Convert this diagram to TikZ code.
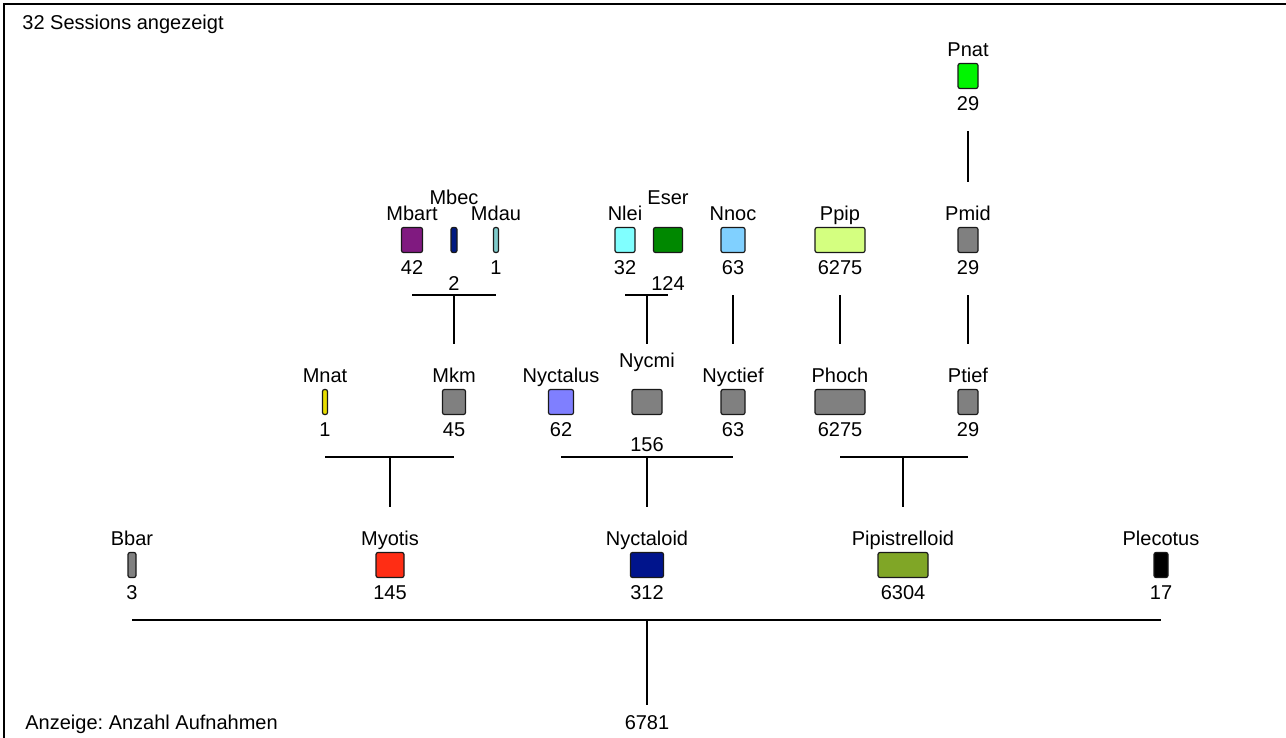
\documentclass[tikz,border=0pt]{standalone}
\usepackage{fontspec}
\setmainfont{Liberation Sans}
\frenchspacing

\definecolor{batgray}{RGB}{128,128,128}
\definecolor{batred}{RGB}{255,45,20}
\definecolor{batnavy}{RGB}{0,20,140}
\definecolor{batolive}{RGB}{128,166,38}
\definecolor{batyellow}{RGB}{232,222,0}
\definecolor{batperi}{RGB}{127,127,255}
\definecolor{batpurple}{RGB}{128,26,128}
\definecolor{batdeep}{RGB}{0,25,128}
\definecolor{batteal}{RGB}{128,204,204}
\definecolor{batcyan}{RGB}{128,255,255}
\definecolor{batgreen}{RGB}{0,136,0}
\definecolor{batsky}{RGB}{128,208,255}
\definecolor{batlime}{RGB}{212,255,128}
\definecolor{batbright}{RGB}{0,245,0}

\begin{document}
\begin{tikzpicture}[x=0.5pt,y=-0.5pt,
  txt/.style={font=\fontsize{10}{12}\selectfont,inner sep=0pt,text height=7.2pt,text depth=0pt},
  taxbox/.style={draw=black!90,line width=0.6pt,rounded corners=1pt,minimum height=12.5pt,inner sep=0pt},
  link/.style={line width=0.75pt}]

\useasboundingbox (0,0) rectangle (1286,738);

% frame
\draw[line width=1pt] (4,738) -- (4,4) -- (1286,4);

\node[txt,anchor=west] (header) at (22,22) {32 Sessions angezeigt};
\node[txt,anchor=west] (legend) at (25,722) {Anzeige: Anzahl Aufnahmen};

% taxa: name/x/y/width/colour/label/count/offset
\foreach \id/\x/\y/\w/\col/\lab/\num/\off in {
  bbar/132/565/8/batgray/Bbar/3/27,
  myotis/390/565/28/batred/Myotis/145/27,
  nyctaloid/647/565/33/batnavy/Nyctaloid/312/27,
  pipistrelloid/903/565/50/batolive/Pipistrelloid/6304/27,
  plecotus/1161/565/14/black/Plecotus/17/27,
  mnat/325/402/5/batyellow/Mnat/1/27,
  mkm/454/402/23/batgray/Mkm/45/27,
  nyctalus/561/402/25/batperi/Nyctalus/62/27,
  nycmi/647/402/30/batgray/Nycmi/156/42,
  nyctief/733/402/24/batgray/Nyctief/63/27,
  phoch/840/402/50/batgray/Phoch/6275/27,
  ptief/968/402/20/batgray/Ptief/29/27,
  mbart/412/240/21/batpurple/Mbart/42/27,
  mbec/454/240/6/batdeep/Mbec/2/43,
  mdau/496/240/5/batteal/Mdau/1/27,
  nlei/625/240/20/batcyan/Nlei/32/27,
  eser/668/240/29/batgreen/Eser/124/43,
  nnoc/733/240/24/batsky/Nnoc/63/27,
  ppip/840/240/50/batlime/Ppip/6275/27,
  pmid/968/240/20/batgray/Pmid/29/27,
  pnat/968/76/20/batbright/Pnat/29/27}
{
\node[taxbox,minimum width=\w*0.5pt,fill=\col] (\id) at (\x,\y) {};
\node[txt] (\id-l) at (\x,\y-\off) {\lab};
\node[txt] (\id-n) at (\x,\y+\off) {\num};
\coordinate (\id-foot) at (\x,\y+55);
\coordinate (\id-head) at (\x,\y-58);
}

% root
\node[txt] (root-n) at (647,722) {6781};
\coordinate (root-head) at (647,705);

% branches: parent/first child/last child
\foreach \p/\a/\b in {mkm/mbart/mdau, nycmi/nlei/eser, nyctief/nnoc/nnoc,
  phoch/ppip/ppip, ptief/pmid/pmid, pmid/pnat/pnat, myotis/mnat/mkm,
  nyctaloid/nyctalus/nyctief, pipistrelloid/phoch/ptief, root/bbar/plecotus}
{
\draw[link] (\a-foot) -- (\b-foot);
\draw[link] (\p-head |- \a-foot) -- (\p-head);
}

\end{tikzpicture}
\end{document}
